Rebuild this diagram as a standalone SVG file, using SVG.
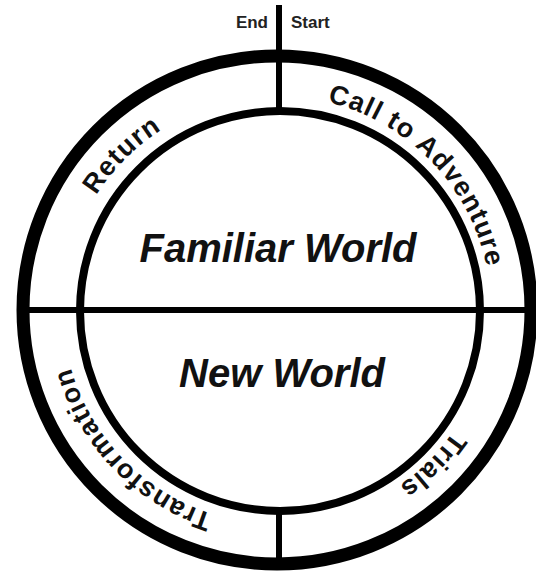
<svg xmlns="http://www.w3.org/2000/svg" xmlns:xlink="http://www.w3.org/1999/xlink" width="536" height="579" viewBox="0 0 536 579">
  <style>
    .ring { fill: none; stroke: #000; }
    .line { stroke: #000; stroke-width: 6; fill: none; }
    .small { font-family: "Liberation Sans", Arial, sans-serif; font-weight: bold; font-size: 17px; fill: #222; }
    .world { font-family: "Liberation Sans", Arial, sans-serif; font-weight: bold; font-style: italic; font-size: 40px; fill: #111; text-anchor: middle; }
    .stage { font-family: "Liberation Sans", Arial, sans-serif; font-weight: bold; font-size: 27px; letter-spacing: 1.2px; fill: #111; }
  </style>
  <defs>
    <path id="track" d="M 277,96 A 214,214 0 1 1 277,524 A 214,214 0 1 1 277,96"/>
  </defs>
  <rect width="536" height="579" fill="#fff"/>
  <g id="connectors">
    <line class="line" x1="279" y1="5" x2="279" y2="112"/>
    <line class="line" x1="279" y1="510" x2="279" y2="563"/>
    <line class="line" x1="20" y1="310" x2="532" y2="310"/>
  </g>
  <g id="outer-circle">
    <circle class="ring" cx="277" cy="310" r="254" stroke-width="13"/>
  </g>
  <g id="inner-circle">
    <circle class="ring" cx="280" cy="311" r="200" stroke-width="8"/>
  </g>
  <g id="end-label"><text class="small" x="268" y="28" text-anchor="end">End</text></g>
  <g id="start-label"><text class="small" x="291" y="28">Start</text></g>
  <g id="familiar-world"><text class="world" x="278" y="262">Familiar World</text></g>
  <g id="new-world"><text class="world" x="282" y="387">New World</text></g>
  <g id="call-to-adventure"><text class="stage" text-anchor="middle"><textPath xlink:href="#track" href="#track" startOffset="12.8%">Call to Adventure</textPath></text></g>
  <g id="trials"><text class="stage" text-anchor="middle"><textPath xlink:href="#track" href="#track" startOffset="37.5%">Trials</textPath></text></g>
  <g id="transformation"><text class="stage" text-anchor="middle"><textPath xlink:href="#track" href="#track" startOffset="62.8%">Transformation</textPath></text></g>
  <g id="return"><text class="stage" text-anchor="middle"><textPath xlink:href="#track" href="#track" startOffset="87.5%">Return</textPath></text></g>
</svg>
